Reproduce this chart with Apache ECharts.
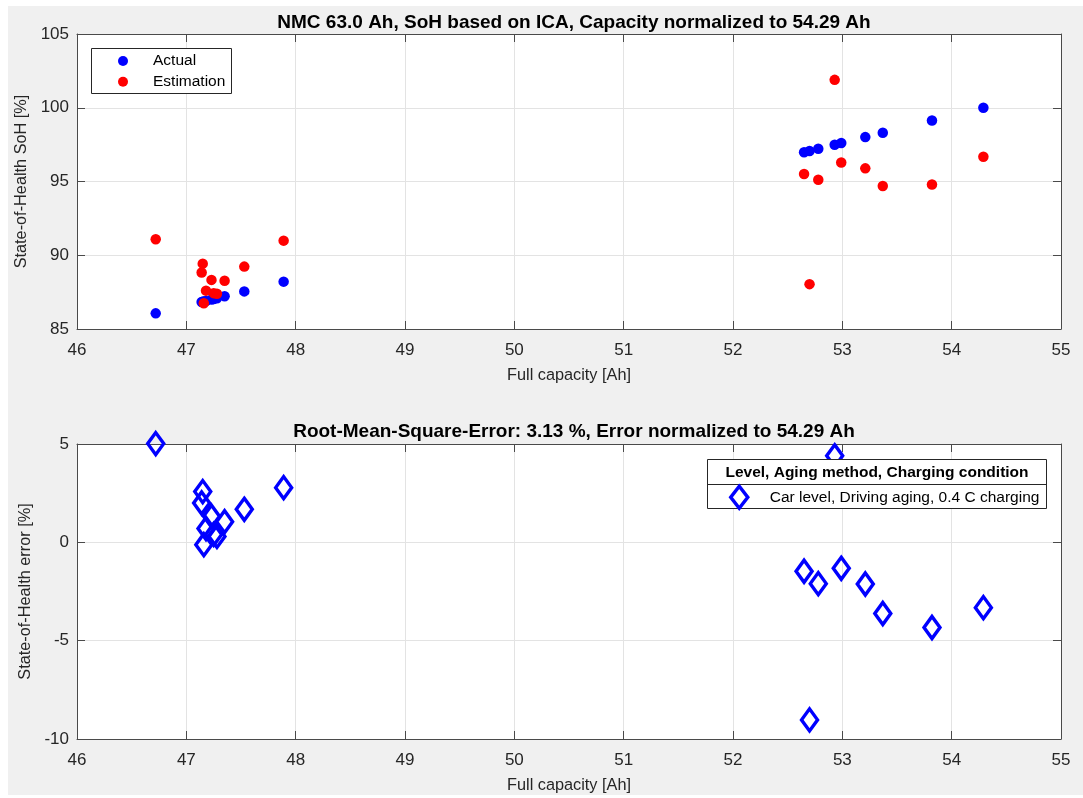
<!DOCTYPE html>
<html>
<head>
<meta charset="utf-8">
<script src="https://cdn.jsdelivr.net/npm/echarts@6/dist/echarts.min.js"></script>
<style>
  html, body { margin: 0; padding: 0; background: #ffffff; }
  #figure { position: absolute; left: 8px; top: 6px; width: 1075px; height: 789px; background: #f0f0f0; }
  #chart { position: absolute; left: 0; top: 0; width: 1083px; height: 798px; }
</style>
</head>
<body>
<div id="figure"></div>
<div id="chart"></div>
<script>
// Full capacity of each measured cell [Ah]
const capacityAh = [
  46.72, 47.14, 47.15, 47.16, 47.18, 47.23, 47.25, 47.28, 47.35, 47.53, 47.89,
  52.65, 52.70, 52.78, 52.93, 52.99, 53.21, 53.37, 53.82, 54.29
];
// Reference state of health [%]
const sohActual = [
  86.06, 86.83, 86.85, 86.87, 86.90, 87.00, 87.03, 87.09, 87.22, 87.55, 88.21,
  96.98, 97.07, 97.22, 97.49, 97.61, 98.01, 98.31, 99.13, 100.00
];
// ICA based state of health estimate [%]
const sohEstimation = [
  91.08, 88.83, 89.43, 86.75, 87.60, 88.33, 87.43, 87.39, 88.27, 89.23, 90.99,
  95.51, 88.04, 95.12, 101.89, 96.29, 95.89, 94.69, 94.80, 96.68
];
// Estimation error [%]
const sohError = [
  5.02, 2.00, 2.58, -0.12, 0.70, 1.33, 0.40, 0.30, 1.05, 1.68, 2.78,
  -1.47, -9.03, -2.10, 4.40, -1.32, -2.12, -3.62, -4.33, -3.32
];
// Axis ranges and tick spacing
const capacityRange = [46, 55, 1];
const sohRange = [85, 105, 5];
const errorRange = [-10, 5, 5];

const pairs = (xs, ys) => xs.map((x, i) => [x, ys[i]]);

const FONT = '"Liberation Sans", Arial, Helvetica, sans-serif';
const AXIS_COLOR = '#4a4a4a';
const TEXT_COLOR = '#262626';
const GRID_COLOR = '#e3e3e3';
const TICK_FONT = 17;

const L = 77, R = 1061;
const G1 = { top: 34, bottom: 329 };
const G2 = { top: 444, bottom: 739 };

function xAxes(gridIndex, withName) {
  const base = {
    gridIndex, type: 'value',
    min: capacityRange[0], max: capacityRange[1], interval: capacityRange[2],
    axisLine: { show: true, onZero: false, lineStyle: { color: AXIS_COLOR, width: 1 } },
    axisTick: { show: true, inside: true, length: 8, lineStyle: { color: AXIS_COLOR } }
  };
  return [
    Object.assign({}, base, {
      position: 'bottom',
      axisLabel: { color: TEXT_COLOR, fontSize: TICK_FONT, fontFamily: FONT, margin: 13 },
      splitLine: { show: true, lineStyle: { color: GRID_COLOR, width: 1 } },
      name: withName, nameLocation: 'middle', nameGap: 39,
      nameTextStyle: { color: TEXT_COLOR, fontSize: 16.3, fontFamily: FONT }
    }),
    Object.assign({}, base, {
      position: 'top',
      axisLabel: { show: false },
      splitLine: { show: false }
    })
  ];
}

function yAxes(gridIndex, range, name) {
  const base = {
    gridIndex, type: 'value',
    min: range[0], max: range[1], interval: range[2],
    axisLine: { show: true, onZero: false, lineStyle: { color: AXIS_COLOR, width: 1 } },
    axisTick: { show: true, inside: true, length: 8, lineStyle: { color: AXIS_COLOR } }
  };
  return [
    Object.assign({}, base, {
      position: 'left',
      axisLabel: { color: TEXT_COLOR, fontSize: TICK_FONT, fontFamily: FONT, margin: 8 },
      splitLine: { show: true, lineStyle: { color: GRID_COLOR, width: 1 } },
      name, nameLocation: 'middle', nameGap: 38, nameRotate: 90,
      nameTextStyle: { color: TEXT_COLOR, fontSize: 16.3, fontFamily: FONT }
    }),
    Object.assign({}, base, {
      position: 'right',
      axisLabel: { show: false },
      splitLine: { show: false }
    })
  ];
}

const chart = echarts.init(document.getElementById('chart'), null, { renderer: 'canvas' });

const option = {
  animation: false,
  backgroundColor: 'transparent',
  textStyle: { fontFamily: FONT },
  title: [
    {
      text: 'NMC 63.0 Ah, SoH based on ICA, Capacity normalized to 54.29 Ah',
      left: (L + R) / 2, top: 8, textAlign: 'center',
      textStyle: { fontSize: 19, fontWeight: 'bold', color: '#000', fontFamily: FONT }
    },
    {
      text: 'Root-Mean-Square-Error: 3.13 %, Error normalized to 54.29 Ah',
      left: (L + R) / 2, top: 417, textAlign: 'center',
      textStyle: { fontSize: 19, fontWeight: 'bold', color: '#000', fontFamily: FONT }
    }
  ],
  grid: [
    { left: L, width: R - L, top: G1.top, height: G1.bottom - G1.top,
      show: true, backgroundColor: '#ffffff', borderWidth: 0 },
    { left: L, width: R - L, top: G2.top, height: G2.bottom - G2.top,
      show: true, backgroundColor: '#ffffff', borderWidth: 0 }
  ],
  xAxis: [...xAxes(0, 'Full capacity [Ah]'), ...xAxes(1, 'Full capacity [Ah]')],
  yAxis: [...yAxes(0, sohRange, 'State-of-Health SoH [%]'), ...yAxes(1, errorRange, 'State-of-Health error [%]')],
  legend: [
    {
      data: ['Actual', 'Estimation'],
      orient: 'vertical', left: 118, top: 52,
      itemWidth: 10, itemHeight: 10, itemGap: 2.7,
      padding: 0, z: 12,
      textStyle: { fontSize: 15.5, color: '#000', fontFamily: FONT, lineHeight: 18, padding: [0, 0, 0, 20] }
    },
    {
      data: ['Car level, Driving aging, 0.4 C charging'],
      orient: 'vertical', left: 729, top: 484.5,
      itemWidth: 17, itemHeight: 22,
      padding: 0, z: 12,
      itemStyle: { borderWidth: 3.5 },
      textStyle: { fontSize: 15.5, color: '#000', fontFamily: FONT, padding: [0, 0, 0, 17] }
    }
  ],
  graphic: [
    // legend frame, upper axes
    { type: 'rect', z: 10, shape: { x: 91.5, y: 48.5, width: 140, height: 45 },
      style: { fill: '#ffffff', stroke: '#262626', lineWidth: 1 } },
    // legend frame with header, lower axes
    { type: 'rect', z: 10, shape: { x: 707.5, y: 459.5, width: 339, height: 49 },
      style: { fill: '#ffffff', stroke: '#262626', lineWidth: 1 } },
    { type: 'line', z: 11, shape: { x1: 707.5, y1: 484.5, x2: 1046.5, y2: 484.5 },
      style: { stroke: '#262626', lineWidth: 1 } },
    { type: 'text', z: 11, x: 877, y: 472.5,
      style: { text: 'Level, Aging method, Charging condition', fill: '#000',
               font: 'bold 15.5px ' + FONT, textAlign: 'center', textVerticalAlign: 'middle' } }
  ],
  series: [
    {
      name: 'Actual', type: 'scatter', xAxisIndex: 0, yAxisIndex: 0,
      data: pairs(capacityAh, sohActual),
      symbol: 'circle', symbolSize: 10.5, clip: false,
      itemStyle: { color: '#0000ff', opacity: 1 },
      emphasis: { disabled: true }
    },
    {
      name: 'Estimation', type: 'scatter', xAxisIndex: 0, yAxisIndex: 0,
      data: pairs(capacityAh, sohEstimation),
      symbol: 'circle', symbolSize: 10.5, clip: false,
      itemStyle: { color: '#ff0000', opacity: 1 },
      emphasis: { disabled: true }
    },
    {
      name: 'Car level, Driving aging, 0.4 C charging', type: 'scatter', xAxisIndex: 2, yAxisIndex: 2,
      data: pairs(capacityAh, sohError),
      symbol: 'diamond', symbolSize: [16, 22], clip: false,
      itemStyle: { color: 'rgba(0,0,0,0)', borderColor: '#0000ff', borderWidth: 3.5, opacity: 1 },
      emphasis: { disabled: true }
    }
  ]
};

chart.setOption(option);
</script>
</body>
</html>
